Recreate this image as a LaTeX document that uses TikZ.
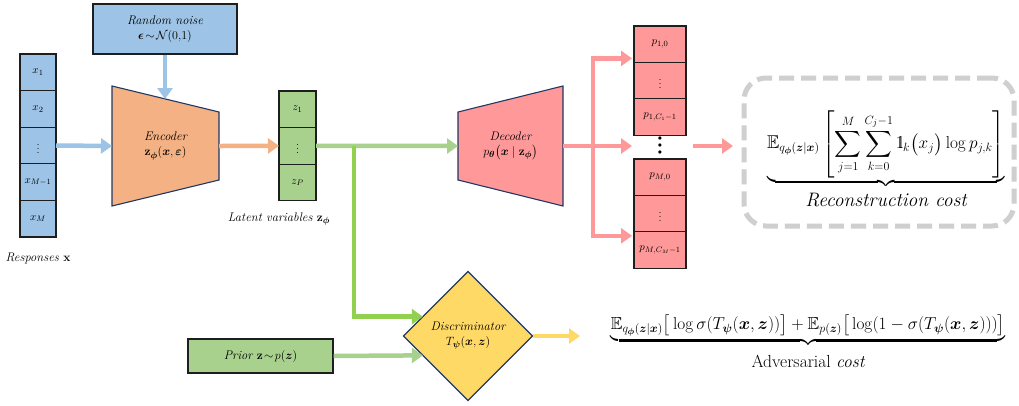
\documentclass[tikz,border=0pt]{standalone}
\usepackage{amsmath,amssymb,bm}
\usetikzlibrary{arrows.meta,calc,shapes.geometric}
\definecolor{aaeBlue}{HTML}{9DC3E6}
\definecolor{aaeOrange}{HTML}{F4B183}
\definecolor{aaeGreen}{HTML}{A9D18E}
\definecolor{aaeGreenHi}{HTML}{92D050}
\definecolor{aaePink}{HTML}{FF9999}
\definecolor{aaeYellow}{HTML}{FFD966}
\definecolor{aaeInk}{HTML}{1E1E1E}
\definecolor{aaeNavy}{HTML}{203864}
\definecolor{aaeGrey}{HTML}{D0CECE}
\newcommand{\indicator}{\mathrm{1\mkern-5mu l}}

\begin{document}
\begin{tikzpicture}[x=1pt,y=-1pt,>=Latex]
\path[fill=white] (0,0) rectangle (1019,405);
\tikzset{cell/.style={draw=aaeInk,line width=1.1pt,inner sep=0pt,outer sep=0pt,minimum height=36.6pt,font=\fontsize{11}{12}\selectfont},inbox/.style={cell,fill=aaeBlue,minimum width=36pt},zbox/.style={cell,fill=aaeGreen,minimum width=37pt},pbox/.style={cell,fill=aaePink,minimum width=52pt,minimum height=36.4pt},flow/.style={line width=4.5pt,-{Triangle[length=11pt,width=15pt]}},lbl/.style={font=\fontsize{12.5}{15}\selectfont\itshape,align=center},net/.style={draw=aaeNavy,line width=1.1pt}}
% responses
\node[inbox] (x1) at (38,72.3) {$x_1$}; \node[inbox] (x2) at (38,108.9) {$x_2$}; \node[inbox] (x3) at (38,145.5) {$\vdots$};
\node[inbox] (x4) at (38,182.1) {$x_{M-1}$}; \node[inbox] (x5) at (38,218.7) {$x_M$};
\node[lbl] (resp) at (38,258) {Responses $\mathbf{x}$};
% noise and encoder
\node[lbl,draw=aaeInk,fill=aaeBlue,line width=1.1pt,minimum width=144pt,minimum height=50pt] (noise) at (165,29) {Random noise\\$\bm{\epsilon}\!\sim\!\mathcal{N}(0{,}1)$};
\path node[minimum width=107pt,minimum height=120pt,outer sep=0pt] (enc) at (165.5,146) {};
\draw[net,fill=aaeOrange] (enc.north west) -- ([yshift=34pt]enc.east) -- ([yshift=-34pt]enc.east) -- (enc.south west) -- cycle;
\node[lbl] (encText) at (enc) {Encoder\\$\mathbf{z}_{\bm{\phi}}(\bm{x},\bm{\varepsilon})$};
\coordinate (encTop) at ($(enc.north west)!0.5!([yshift=34pt]enc.east)$);
% latent
\node[zbox] (z1) at (297.5,109.3) {$z_1$}; \node[zbox] (z2) at (297.5,145.9) {$\vdots$}; \node[zbox] (z3) at (297.5,182.5) {$z_P$};
\node[lbl] (latent) at (279,219) {Latent variables $\mathbf{z}_{\bm{\phi}}$};
% decoder
\path node[minimum width=105pt,minimum height=120pt,outer sep=0pt] (dec) at (510.5,146) {};
\draw[net,fill=aaePink] ([yshift=34pt]dec.west) -- (dec.north east) -- (dec.south east) -- ([yshift=-34pt]dec.west) -- cycle;
\node[lbl] (decText) at (dec) {Decoder\\$p_{\bm{\theta}}\big(\bm{x}\mid\mathbf{z}_{\bm{\phi}}\big)$};
% outputs
\node[pbox] (p11) at (660,44.2) {$p_{1,0}$}; \node[pbox] (p12) at (660,80.6) {$\vdots$}; \node[pbox] (p13) at (660,117) {$p_{1,C_1-1}$};
\node[font=\fontsize{8}{7}\selectfont,align=center,inner sep=0pt] (pdots) at (660,146) {$\bullet$\\$\bullet$\\$\bullet$};
\node[pbox] (p21) at (660,177.2) {$p_{M,0}$}; \node[pbox] (p22) at (660,213.6) {$\vdots$}; \node[pbox] (p23) at (660,250) {$p_{M,C_M-1}$};
% discriminator and prior
\node[diamond,aspect=1,draw=aaeNavy,line width=1.1pt,fill=aaeYellow,minimum size=129pt,inner sep=0pt,outer sep=0pt] (disc) at (468,336) {};
\node[lbl] (discText) at (disc) {Discriminator\\$T_{\bm{\psi}}(\bm{x},\bm{z})$};
\node[lbl,draw=aaeInk,fill=aaeGreen,line width=1.1pt,minimum width=145pt,minimum height=34pt] (prior) at (260.5,356) {Prior $\mathbf{z}\!\sim\!p(\bm{z})$};
% costs
\node[draw=aaeGrey,line width=5pt,dash pattern=on 15pt off 7pt,rounded corners=22pt,minimum width=270pt,minimum height=148pt,outer sep=0pt] (recbox) at (879,152) {};
\node[font=\fontsize{18.5}{22}\selectfont] (recon) at (886,160) {$\displaystyle\underbrace{\mathbb{E}_{q_{\bm{\phi}}(\bm{z}|\bm{x})}\left[\sum_{j=1}^{M}\sum_{k=0}^{C_j-1}\indicator_k\big(x_j\big)\log p_{j,k}\right]}_{\mbox{\fontsize{19.5}{22}\selectfont\itshape\rule{0pt}{17.5pt}Reconstruction cost}}$};
\node[font=\fontsize{17.5}{21}\selectfont] (adv) at (808,342) {$\displaystyle\underbrace{\mathbb{E}_{q_{\bm{\phi}}(\bm{z}|\bm{x})}\big[\log\sigma(T_{\bm{\psi}}(\bm{x},\bm{z}))\big]+\mathbb{E}_{p(\bm{z})}\big[\log(1-\sigma(T_{\bm{\psi}}(\bm{x},\bm{z})))\big]}_{\mbox{\rule{0pt}{20pt}Adversarial \itshape cost}}$};
% connectors
\coordinate (fork) at (354,146); \coordinate (redFork) at (593,146); \coordinate (advEnd) at (580,336);
\draw[flow,aaeBlue] (x3.east) -- (enc.west);
\draw[flow,aaeBlue] (noise.south) -- (noise.south |- encTop);
\draw[flow,aaeOrange] (enc.east) -- (z2.west);
\draw[flow,aaeGreen] (z2.east) -- (dec.west);
\draw[flow,aaeGreenHi] (fork) |- ($(disc.west)!0.3!(disc.north)$);
\draw[flow,aaeGreen] (prior.east) -- ($(disc.west)!0.3!(disc.south)$);
\draw[flow,aaeYellow] (disc.east) -- (advEnd);
\draw[flow,aaePink] (dec.east) -- ([xshift=-2pt]p13.west |- pdots);
\draw[flow,aaePink] (redFork) |- ([xshift=-2pt]$(p11.west)!0.78!(p11.south west)$);
\draw[flow,aaePink] (redFork) |- ([xshift=-2pt]$(p23.west)!0.78!(p23.north west)$);
\draw[flow,aaePink] ([xshift=7pt]p13.east |- pdots) -- ([xshift=-11pt]recbox.west |- pdots);
\end{tikzpicture}
\end{document}
